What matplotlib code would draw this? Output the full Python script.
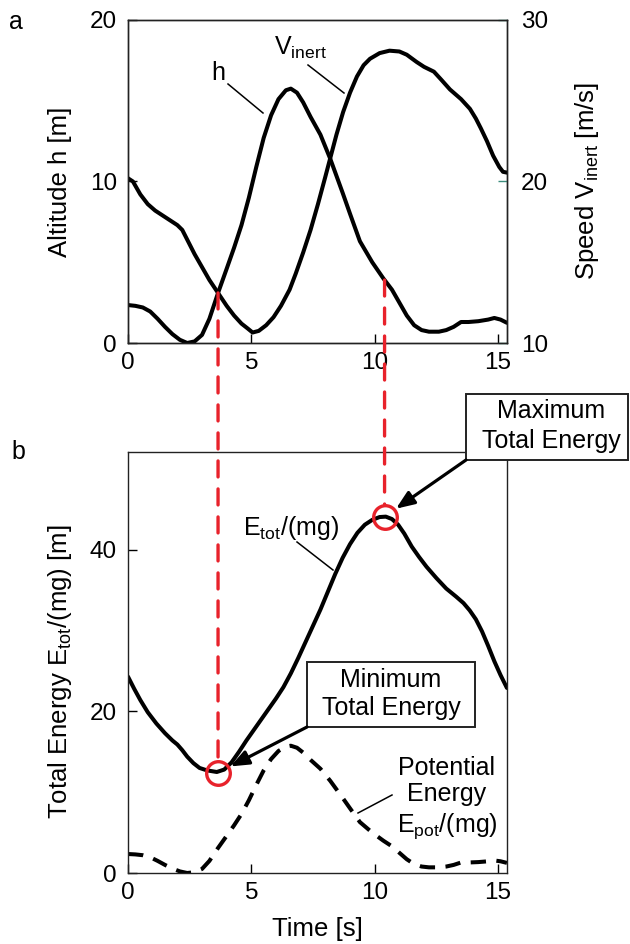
import numpy as np
import matplotlib
matplotlib.use('Agg')
import matplotlib.pyplot as plt
from matplotlib.patches import ConnectionPatch, Rectangle
from matplotlib.lines import Line2D

plt.rcParams['font.family'] = ['Liberation Sans', 'DejaVu Sans']
plt.rcParams['mathtext.fontset'] = 'custom'
plt.rcParams['mathtext.rm'] = 'Liberation Sans'
plt.rcParams['mathtext.it'] = 'Liberation Sans:italic'

# ---------------- data ----------------
t_h = [0.0, 0.3, 0.6, 0.9, 1.2, 1.5, 1.8, 2.1, 2.4, 2.7, 3.0, 3.3, 3.65, 4.0,
       4.3, 4.6, 4.9, 5.2, 5.5, 5.8, 6.1, 6.4, 6.6, 6.85, 7.1, 7.4, 7.8, 8.2,
       8.7, 9.0, 9.4, 9.9, 10.35, 10.7, 11.0, 11.3, 11.6, 11.9, 12.2, 12.6,
       12.9, 13.2, 13.5, 13.8, 14.2, 14.6, 14.85, 15.1, 15.36]
h_vals = [2.35, 2.3, 2.2, 1.95, 1.5, 1.0, 0.55, 0.2, 0.0, 0.1, 0.5, 1.5, 3.1, 4.6,
          5.9, 7.3, 9.0, 10.9, 12.7, 14.1, 15.1, 15.65, 15.75, 15.5, 14.9, 14.0, 12.9, 11.4,
          9.3, 8.0, 6.3, 5.0, 4.0, 3.3, 2.5, 1.7, 1.1, 0.8, 0.7, 0.7,
          0.8, 1.0, 1.3, 1.3, 1.35, 1.45, 1.55, 1.45, 1.25]

t_v = [0.0, 0.2, 0.5, 0.8, 1.1, 1.4, 1.7, 2.0, 2.2, 2.4, 2.7, 3.0, 3.3, 3.65,
       4.0, 4.3, 4.6, 4.85, 5.05, 5.3, 5.6, 5.9, 6.2, 6.55, 6.8, 7.1, 7.4, 7.7,
       8.0, 8.19, 8.45, 8.72, 9.0, 9.28, 9.55, 9.81, 10.2, 10.6, 11.0, 11.3,
       11.7, 12.0, 12.4, 12.7, 13.05, 13.5, 13.86, 14.1, 14.3, 14.55, 14.8,
       15.05, 15.2, 15.36]
v_vals = [20.2, 20.0, 19.2, 18.6, 18.2, 17.9, 17.6, 17.3, 17.0, 16.4, 15.5, 14.7, 13.9, 13.1,
          12.3, 11.7, 11.2, 10.9, 10.65, 10.75, 11.1, 11.6, 12.3, 13.3, 14.3, 15.6, 17.0, 18.6,
          20.3, 21.4, 22.9, 24.3, 25.5, 26.5, 27.2, 27.6, 27.95, 28.1, 28.05, 27.85,
          27.4, 27.1, 26.8, 26.3, 25.7, 25.1, 24.5, 23.9, 23.3, 22.5, 21.6,
          20.9, 20.6, 20.55]

t_e = [0.0, 0.25, 0.5, 0.8, 1.15, 1.5, 1.8, 2.0, 2.2, 2.4, 2.65, 2.9, 3.2, 3.6,
       3.9, 4.2, 4.5, 4.8, 5.1, 5.4, 5.7, 6.0, 6.3, 6.6, 6.9, 7.2, 7.5, 7.8,
       8.1, 8.4, 8.7, 9.0, 9.3, 9.6, 9.9, 10.2, 10.45, 10.7, 10.95, 11.2, 11.5,
       11.8, 12.1, 12.5, 12.9, 13.3, 13.6, 13.85, 14.1, 14.35, 14.6, 14.85,
       15.1, 15.36]
e_vals = [24.3, 22.8, 21.4, 19.9, 18.5, 17.3, 16.4, 15.9, 15.2, 14.4, 13.6, 13.0, 12.7, 12.5,
          12.8, 13.7, 15.0, 16.4, 17.7, 19.0, 20.3, 21.6, 23.0, 24.7, 26.6, 28.6, 30.6, 32.6,
          34.8, 37.0, 39.0, 40.7, 42.1, 43.1, 43.7, 44.05, 44.1, 43.8, 43.1, 42.0, 40.4,
          39.1, 37.9, 36.5, 35.2, 34.2, 33.4, 32.5, 31.4, 29.9, 28.1, 26.2,
          24.5, 22.9]

x_ticks = [0, 5, 10, 15]
h_ticks = [0, 10, 20]
v_ticks = [10, 20, 30]
e_ticks = [0, 20, 40]

event_t = [3.65, 10.4]
event_E = [12.4, 44.1]

RED = '#e8222b'
TEAL = '#3b8c7c'

# ---------------- layout helpers (figure pixels from top-left) ----------------
W, H = 630, 944
fig = plt.figure(figsize=(W / 100, H / 100), dpi=100)


def fx(x):
    return x / W


def fy(y):
    return 1 - y / H


L, R = 128, 507
ax1 = fig.add_axes([fx(L), fy(343), (R - L) / W, (343 - 20) / H])
ax2 = fig.add_axes([fx(L), fy(873), (R - L) / W, (873 - 452) / H])
ax1b = ax1.twinx()

xmax = (R - L) / 24.67

LW = 2.9
# ---------------- panel a ----------------
ax1.plot(t_h, h_vals, color='black', lw=LW, solid_joinstyle='round', solid_capstyle='round')
ax1b.plot(t_v, v_vals, color='black', lw=LW, solid_joinstyle='round', solid_capstyle='round')
ax1.set_xlim(0, xmax)
ax1.set_ylim(0, 20)
ax1b.set_ylim(10, 30)
ax1.set_xticks(x_ticks)
ax1.set_yticks(h_ticks)
ax1b.set_yticks(v_ticks)

# ---------------- panel b ----------------
ax2.plot(t_e, e_vals, color='black', lw=LW, solid_joinstyle='round', solid_capstyle='round')
ax2.plot(t_h, h_vals, color='black', lw=LW, linestyle=(0, (3.8, 2.6)))
ax2.set_xlim(0, xmax)
ax2.set_ylim(0, 52.1)
ax2.set_xticks(x_ticks)
ax2.set_yticks(e_ticks)
ax2.plot(event_t, event_E, linestyle='none', marker='o', ms=17, mfc='none',
         mec=RED, mew=2.4, clip_on=False, zorder=5)

for ax in (ax1, ax2, ax1b):
    for sp in ax.spines.values():
        sp.set_linewidth(1.0)
        sp.set_color('#222222')
    ax.tick_params(direction='in', length=6.5, width=1.0, labelsize=17.5)
ax1.tick_params(axis='y', pad=8)
ax2.tick_params(axis='y', pad=8)
ax1.tick_params(axis='x', pad=6.5)
ax2.tick_params(axis='x', pad=6.5)
ax1b.tick_params(axis='y', color=TEAL, labelcolor='black', pad=10)

lab_fs = 18.5
ax1.set_ylabel('Altitude h [m]', fontsize=lab_fs)
ax1b.set_ylabel(r'Speed V$_\mathrm{inert}$ [m/s]', fontsize=lab_fs)
ax2.set_ylabel(r'Total Energy E$_\mathrm{tot}$/(mg) [m]', fontsize=lab_fs)
ax2.set_xlabel('Time [s]', fontsize=lab_fs)
for axis, xc, yc in ((ax1.yaxis, (60 - L) / (R - L), 0.5),
                     (ax1b.yaxis, (587 - L) / (R - L), 0.5),
                     (ax2.yaxis, (60 - L) / (R - L), (873 - 672) / 421)):
    axis.set_label_coords(xc, yc)
    axis.label.set_va('center')
    axis.label.set_ha('center')
    axis.label.set_rotation_mode('anchor')
ax2.xaxis.set_label_coords(0.5, (873 - 929) / 421)
ax2.xaxis.label.set_va('center')

# ---------------- red dashed connectors ----------------
for tt, EE in zip(event_t, event_E):
    hA = float(np.interp(tt, t_h, h_vals))
    con = ConnectionPatch(xyA=(tt, hA), coordsA=ax1.transData,
                          xyB=(tt, EE), coordsB=ax2.transData,
                          color=RED, lw=2.4, linestyle=(0, (4.8, 3.6)),
                          shrinkA=0, shrinkB=8.5, zorder=3)
    fig.add_artist(con)

# ---------------- boxes and arrows ----------------
boxes = [((466, 394, 628, 460), ('Maximum', 'Total Energy'), (551, 418, 448)),
         ((307, 662, 475, 727), ('Minimum', 'Total Energy'), (391, 687, 715))]
for (x0, y0, x1, y1), lines, (cx, b1, b2) in boxes:
    fig.add_artist(Rectangle((fx(x0), fy(y1)), (x1 - x0) / W, (y1 - y0) / H,
                             transform=fig.transFigure, fc='white', ec='#222222',
                             lw=1.4, zorder=4))
    fig.text(fx(cx), fy(b1), lines[0], ha='center', va='baseline', fontsize=18, zorder=5)
    fig.text(fx(cx), fy(b2), lines[1], ha='center', va='baseline', fontsize=18, zorder=5)

arrow_starts = [(466, 460), (307, 727)]
for (sx, sy), tt, EE in zip(arrow_starts[::-1], event_t, event_E):
    arr = ConnectionPatch(xyA=(fx(sx), fy(sy)), coordsA='figure fraction',
                          xyB=(tt, EE), coordsB=ax2.transData,
                          arrowstyle='-|>,head_length=0.55,head_width=0.22',
                          mutation_scale=20, color='black', fc='black', lw=2.3,
                          shrinkA=0, shrinkB=10, zorder=6)
    fig.add_artist(arr)

# ---------------- labels with leader lines ----------------
fs = 18
fig.text(fx(16), fy(22), 'a', ha='center', va='center', fontsize=fs)
fig.text(fx(18), fy(452), 'b', ha='center', va='center', fontsize=fs)
fig.text(fx(218), fy(80), 'h', ha='center', va='baseline', fontsize=fs)
fig.text(fx(274), fy(55), r'V$_\mathrm{inert}$', ha='left', va='baseline', fontsize=fs)
fig.text(fx(243), fy(535), r'E$_\mathrm{tot}$/(mg)', ha='left', va='baseline', fontsize=fs)
fig.text(fx(447), fy(775), 'Potential', ha='center', va='baseline', fontsize=fs)
fig.text(fx(447), fy(801), 'Energy', ha='center', va='baseline', fontsize=fs)
fig.text(fx(447), fy(832), r'E$_\mathrm{pot}$/(mg)', ha='center', va='baseline', fontsize=fs)

leaders = [((228, 84), (263, 113)), ((308, 65), (344, 93)),
           ((297, 542), (333, 570)), ((392, 795), (358, 813))]
for (xa, ya), (xb, yb) in leaders:
    fig.add_artist(Line2D([fx(xa), fx(xb)], [fy(ya), fy(yb)], transform=fig.transFigure,
                          color='black', lw=1.1))

fig.savefig('out.png', dpi=100)
